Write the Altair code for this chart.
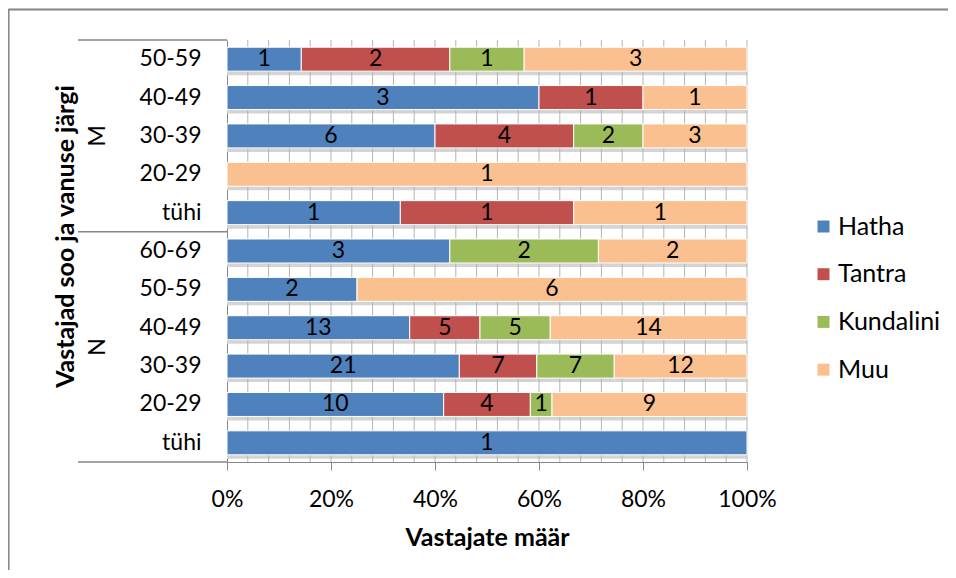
import altair as alt
import pandas as pd

# ---- data ----
genders = ["M", "M", "M", "M", "M", "N", "N", "N", "N", "N", "N"]
ages = ["50-59", "40-49", "30-39", "20-29", "tühi",
        "60-69", "50-59", "40-49", "30-39", "20-29", "tühi"]
styles = ["Hatha", "Tantra", "Kundalini", "Muu"]
colors = ["#4F81BD", "#C0504D", "#9BBB59", "#FAC090"]
hatha = [1, 3, 6, 0, 1, 3, 2, 13, 21, 10, 1]
tantra = [2, 1, 4, 0, 1, 0, 0, 5, 7, 4, 0]
kundalini = [1, 0, 2, 0, 0, 2, 0, 5, 7, 1, 0]
muu = [3, 1, 3, 1, 1, 2, 6, 14, 12, 9, 0]
x_ticks = [0, 0.2, 0.4, 0.6, 0.8, 1.0]

keys = [f"{g}|{a}" for g, a in zip(genders, ages)]
rows = []
for i, k in enumerate(keys):
    for j, (s, vals) in enumerate(zip(styles, [hatha, tantra, kundalini, muu])):
        rows.append({"key": k, "style": s, "order": j, "count": vals[i]})
df = pd.DataFrame(rows)

# group label positions (row units), derived from group sizes
grp_names = ["M", "N"]
grp_sizes = [genders.count(g) for g in grp_names]
grp_rows, seps, start = [], [0], 0
for g, n in zip(grp_names, grp_sizes):
    grp_rows.append({"g": g, "c": start + n / 2})
    start += n
    seps.append(start)
grp_df = pd.DataFrame(grp_rows)
sep_df = pd.DataFrame({"s": seps})
grid_df = pd.DataFrame({"g": [i / 25 for i in range(1, 26)]})

FONT = "Lato"
FS = 23
TFS = 25
W, H = 520, 422
GRAY = "#868686"

xscale = alt.Scale(domain=[0, 1], nice=False)
yenc = alt.Y(
    "key:N", sort=keys,
    scale=alt.Scale(domain=keys, paddingInner=0.375, paddingOuter=0.1875),
    axis=alt.Axis(title="Vastajad soo ja vanuse järgi",
                  labelExpr="split(datum.label, '|')[1]",
                  ticks=False, labelPadding=26, labelFontSize=FS, labelFont=FONT,
                  labelColor="#000", domainColor=GRAY,
                  titleFontSize=TFS, titleFont=FONT, titleFontWeight="bold",
                  titleColor="#000", titleX=-162, titleY=196, titleAngle=270,
                  titleAlign="center", titleBaseline="middle"))
xaxis = alt.Axis(values=x_ticks, format="%", grid=False, title="Vastajate määr",
                 titleFontSize=TFS, titleFont=FONT, titleFontWeight="bold",
                 titleColor="#000", labelFont=FONT, labelFontSize=FS,
                 labelColor="#000", tickSize=8, tickColor=GRAY, domainColor=GRAY,
                 labelPadding=18, titlePadding=14, labelFlush=False)

base = (alt.Chart(df)
        .transform_filter("datum.count > 0")
        .transform_stack(stack="count", groupby=["key"], as_=["x0", "x1"],
                         offset="normalize",
                         sort=[alt.SortField("order", order="ascending")])
        .transform_calculate(mid="(datum.x0 + datum.x1) / 2"))

shadow = base.mark_bar(color="#d4d4d4", yOffset=4).encode(
    x=alt.X("x0:Q", scale=xscale, axis=xaxis), x2="x1:Q", y=yenc)

grid = alt.Chart(grid_df).mark_rule(color="#b4b4b4", strokeWidth=1).encode(
    x=alt.X("g:Q", scale=xscale, axis=xaxis), y=alt.value(0), y2=alt.value(H))

bars = base.mark_bar(stroke="white", strokeWidth=1).encode(
    x=alt.X("x0:Q", scale=xscale, axis=xaxis), x2="x1:Q", y=yenc,
    color=alt.Color("style:N", scale=alt.Scale(domain=styles, range=colors),
                    legend=alt.Legend(title=None, orient="none", legendX=584,
                                      legendY=174, symbolType="square",
                                      symbolSize=144, symbolStrokeWidth=0,
                                      labelFontSize=25, labelFont=FONT,
                                      labelColor="#000", rowPadding=21.7,
                                      labelOffset=2)))

labels = base.mark_text(font=FONT, fontSize=FS, color="#000").encode(
    x=alt.X("mid:Q", scale=xscale, axis=xaxis), y=yenc, text="count:Q")

main = alt.layer(shadow, grid, bars, labels)

yq = alt.Scale(domain=[0, len(keys)], reverse=True, nice=False, zero=False)
grp_text = alt.Chart(grp_df).mark_text(font=FONT, fontSize=FS, color="#000",
                                       angle=270, baseline="middle",
                                       align="center").encode(
    x=alt.value(-129), y=alt.Y("c:Q", scale=yq, axis=None), text="g:N")
sep_rules = alt.Chart(sep_df).mark_rule(color=GRAY, strokeWidth=1.5).encode(
    x=alt.value(-149), x2=alt.value(0), y=alt.Y("s:Q", scale=yq, axis=None))
frame_top = alt.Chart(sep_df).mark_rule(color="#8a8a8a", strokeWidth=1.5).encode(
    x=alt.value(-218.5), x2=alt.value(730), y=alt.value(-30.5))
frame_left = alt.Chart(sep_df).mark_rule(color="#8a8a8a", strokeWidth=1.5).encode(
    x=alt.value(-218.5), y=alt.value(-30.5), y2=alt.value(540))

chart = (alt.layer(main, grp_text, sep_rules, frame_top, frame_left)
         .resolve_scale(y="independent")
         .properties(width=W, height=H, autosize="none",
                     padding={"left": 219, "top": 32, "right": 201, "bottom": 108},
                     background="white")
         .configure_view(stroke=None))

chart.save("out.html", embed_options={"renderer": "svg", "actions": False})
